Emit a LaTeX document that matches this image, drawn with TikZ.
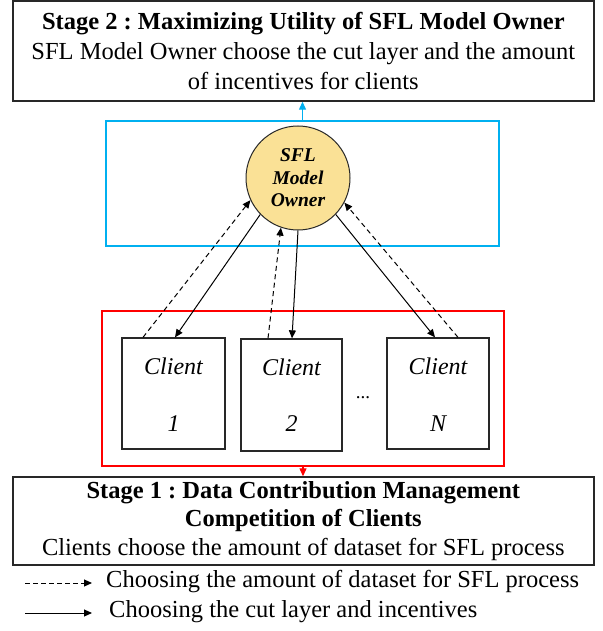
\documentclass[tikz,border=0pt]{standalone}
\usepackage{fontspec}
\setmainfont{Liberation Serif}
\usetikzlibrary{arrows.meta,calc}
\definecolor{ownerfill}{RGB}{250,225,150}
\definecolor{skyblue}{RGB}{0,176,240}
\definecolor{boxgray}{RGB}{40,40,40}
\frenchspacing
\begin{document}
\begin{tikzpicture}[x=1pt,y=-1pt,
  stagebox/.style={draw=boxgray,line width=1.4pt,minimum width=581pt,inner sep=0pt,align=center},
  clientbox/.style={draw=boxgray,line width=1.3pt,minimum width=103pt,minimum height=111pt,inner sep=0pt},
  frame/.style={line width=1.1pt},
  tip/.style={-{Triangle[length=8pt,width=7pt]}},
  link/.style={tip,line width=1pt},
  dlink/.style={tip,line width=1pt,dash pattern=on 5pt off 3.5pt},
  lbl/.style={font=\fontsize{24}{26}\selectfont\itshape}
]
\useasboundingbox (0,0) rectangle (602,631);
\fill[white] (0,0) rectangle (602,631);

% Stage 2 box
\node[stagebox,minimum height=100pt,font=\fontsize{24.5}{30}\selectfont] (stage2) at (303.3,51) {%
  \textbf{Stage 2 : Maximizing Utility of SFL Model Owner}\\
  SFL Model Owner choose the cut layer and the amount\\
  of incentives for clients};

% Blue frame
\node[draw=skyblue,frame,minimum width=393pt,minimum height=125pt,inner sep=0pt] (blueframe) at (302.5,183.5) {};
% Owner circle
\node[circle,draw=boxgray,line width=1pt,fill=ownerfill,minimum size=104pt,inner sep=0pt,align=center,
  font=\fontsize{19.5}{22.5}\selectfont\bfseries\itshape] (owner) at (298,178) {SFL\\Model\\Owner};

% Red frame
\node[draw=red,frame,minimum width=402pt,minimum height=155pt,inner sep=0pt] (redframe) at (303,388.5) {};

% Clients
\node[clientbox] (c1) at (173.5,393.5) {};
\node[clientbox,minimum width=101pt,minimum height=112pt] (c2) at (291.5,395) {};
\node[clientbox,minimum width=102pt] (cN) at (438,393.5) {};
\node[lbl] (c1a) at (173.5,366) {Client};
\node[lbl] (c1b) at (173.5,424) {1};
\node[lbl] (c2a) at (291.5,367) {Client};
\node[lbl] (c2b) at (291.5,424) {2};
\node[lbl] (cNa) at (438,366) {Client};
\node[lbl] (cNb) at (438,424) {N};
\node[font=\fontsize{19}{20}\selectfont] (dots) at (363,398) {...};

% Stage 1 box
\node[stagebox,minimum height=88pt,font=\fontsize{24.5}{28.5}\selectfont] (stage1) at (303.3,521) {%
  \textbf{Stage 1 : Data Contribution Management}\\
  \textbf{Competition of Clients}\\
  Clients choose the amount of dataset for SFL process};

% Stage arrows
\draw[tip,draw=skyblue,fill=skyblue,line width=1.2pt] (blueframe.north) -- (blueframe.north |- stage2.south);
\draw[tip,draw=red,fill=red,line width=1.2pt] (redframe.south) -- (redframe.south |- stage1.north);

% Client <-> owner arrows
\draw[dlink] ($(c1.north)+(-30.5,0)$) -- (owner.205);
\draw[link] (owner.224) -- ($(c1.north)+(1.5,0)$);
\draw[dlink] ($(c2.north)+(-23.5,0)$) -- (owner.251);
\draw[link] (owner.270) -- ($(c2.north)+(0.5,0)$);
\draw[link] (owner.316) -- ($(cN.north)+(-3,0)$);
\draw[dlink] ($(cN.north)+(20,0)$) -- (owner.332);

% Legend
\coordinate (l1a) at (25,583);
\coordinate (l1b) at (92,583);
\coordinate (l2a) at (25,613);
\coordinate (l2b) at (92,613);
\draw[dlink,dash pattern=on 5pt off 3pt] (l1a) -- (l1b);
\draw[link] (l2a) -- (l2b);
\node[anchor=west,font=\fontsize{24.5}{26}\selectfont,inner sep=0pt] (leg1) at (106,582) {Choosing the amount of dataset for SFL process};
\node[anchor=west,font=\fontsize{24.5}{26}\selectfont,inner sep=0pt] (leg2) at (109,612) {Choosing the cut layer and incentives};
\end{tikzpicture}
\end{document}
